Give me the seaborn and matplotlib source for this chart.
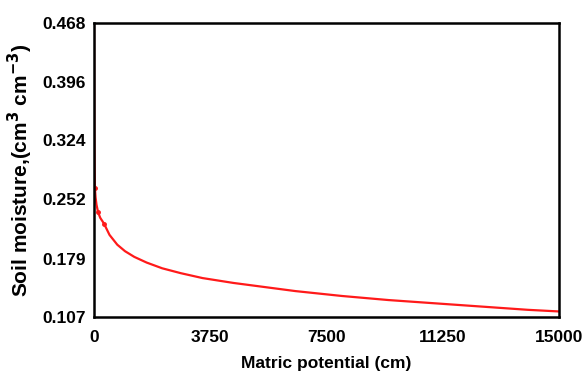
import numpy as np
import pandas as pd
import matplotlib
matplotlib.use("Agg")
import matplotlib.pyplot as plt
import seaborn as sns

# retention curve
potential = [0, 2, 5, 10, 20, 30, 50, 80, 130, 200, 320, 500, 750, 1000, 1300,
             1700, 2200, 2800, 3500, 4500, 5500, 6500, 8000, 9500, 11000,
             12500, 14000, 15000]
moisture = [0.468, 0.44, 0.40, 0.34, 0.29, 0.265, 0.254, 0.245, 0.236, 0.229,
            0.222, 0.208, 0.196, 0.188, 0.181, 0.174, 0.167, 0.161, 0.155,
            0.149, 0.144, 0.139, 0.133, 0.128, 0.124, 0.120, 0.116, 0.114]
# measured points
obs_potential = [30, 130, 320]
obs_moisture = [0.265, 0.236, 0.222]

yticks = [0.107, 0.179, 0.252, 0.324, 0.396, 0.468]
xticks = [0, 3750, 7500, 11250, 15000]

sns.set_style("white")
plt.rcParams['font.family'] = ['Liberation Sans', 'DejaVu Sans']
plt.rcParams['font.weight'] = 'bold'
plt.rcParams['text.color'] = 'black'
plt.rcParams['axes.labelcolor'] = 'black'
plt.rcParams['xtick.color'] = 'black'
plt.rcParams['ytick.color'] = 'black'

df = pd.DataFrame({'x': potential, 'y': moisture})

fig = plt.figure(figsize=(5.84, 3.74), dpi=100)
ax = fig.add_axes([0.161, 0.152, 0.796, 0.786])
sns.lineplot(data=df, x='x', y='y', color='#ff1a1a', linewidth=1.6, ax=ax)
ax.plot(obs_potential, obs_moisture, 'o', color='#ff1a1a', markersize=2.5)

ax.set_xlim(0, 15000)
ax.set_ylim(0.107, 0.468)
ax.set_xticks(xticks)
ax.set_yticks(yticks)
ax.set_xticklabels([str(t) for t in xticks], fontsize=12.5, fontweight='bold')
ax.set_yticklabels([f"{t:.3f}" for t in yticks], fontsize=12.5, fontweight='bold')
ax.tick_params(length=0, pad=6)
ax.tick_params(axis='x', pad=9)
for s in ax.spines.values():
    s.set_color('black')
    s.set_linewidth(1.8)

ax.set_xlabel('Matric potential (cm)', fontsize=12.5, fontweight='bold', labelpad=8)
ax.set_ylabel('Soil moisture,(cm$^{\\mathbf{3}}$ cm$^{\\mathbf{-3}}$)',
              fontsize=15, fontweight='bold', labelpad=5)

fig.savefig('out.png', dpi=100)
